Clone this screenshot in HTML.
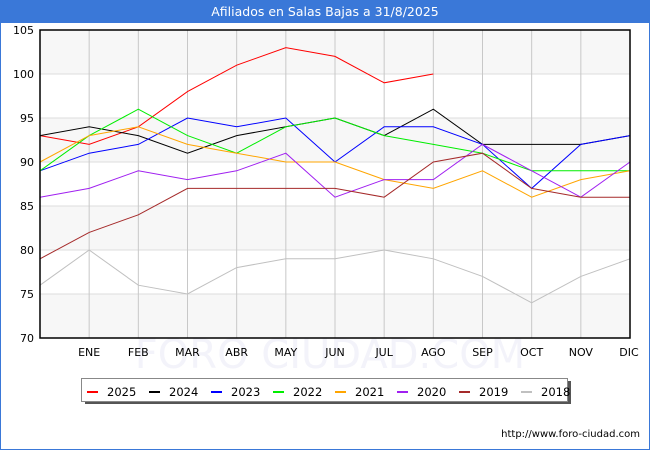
<!DOCTYPE html>
<html><head><meta charset="utf-8"><style>
body{margin:0;background:#fff;}
#wrap{position:relative;width:650px;height:450px;overflow:hidden;font-family:"DejaVu Sans","Liberation Sans",sans-serif;}
</style></head><body>
<div id="wrap">
<svg id="chart" width="650" height="450" xmlns="http://www.w3.org/2000/svg">
<rect x="0.5" y="0.5" width="649" height="449" fill="#fff" stroke="#3a78d8"/>
<rect x="0" y="0" width="650" height="23" fill="#3a78d8"/>
<text x="325" y="16" fill="#fff" font-size="12.5" text-anchor="middle" font-family="DejaVu Sans, Liberation Sans, sans-serif">Afiliados en Salas Bajas a 31/8/2025</text>
<g id="bands"></g><g id="grid"></g>
<text x="330" y="368" font-size="40" fill="#f3f3fa" text-anchor="middle">FORO CIUDAD.COM</text>
<g id="series"></g><g id="axes"></g>
<g id="legend"></g>
<text x="640" y="437" font-size="10" text-anchor="end" fill="#000">http://www.foro-ciudad.com</text>
</svg>
</div>
<script>
const months=["","ENE","FEB","MAR","ABR","MAY","JUN","JUL","AGO","SEP","OCT","NOV","DIC"];
const yTicks=[70,75,80,85,90,95,100,105];
const years=["2025","2024","2023","2022","2021","2020","2019","2018"];
const colors=["#ff0000","#000000","#0000ff","#00ee00","#ffa500","#a020f0","#a52a2a","#c0c0c0"];
const s2025=[93,92,94,98,101,103,102,99,100];
const s2024=[93,94,93,91,93,94,95,93,96,92,92,92,93];
const s2023=[89,91,92,95,94,95,90,94,94,92,87,92,93];
const s2022=[89,93,96,93,91,94,95,93,92,91,89,89,89];
const s2021=[90,93,94,92,91,90,90,88,87,89,86,88,89];
const s2020=[86,87,89,88,89,91,86,88,88,92,89,86,90];
const s2019=[79,82,84,87,87,87,87,86,90,91,87,86,86];
const s2018=[76,80,76,75,78,79,79,80,79,77,74,77,79];
const seriesData=[s2025,s2024,s2023,s2022,s2021,s2020,s2019,s2018];

const NS="http://www.w3.org/2000/svg";
const L=40,R=630,T=30,B=338,ymin=70,ymax=105;
const xs=i=>L+i*(R-L)/(months.length-1);
const ys=v=>B-(v-ymin)*(B-T)/(ymax-ymin);
function mk(tag,attrs,parent){const e=document.createElementNS(NS,tag);for(const k in attrs)e.setAttribute(k,attrs[k]);parent.appendChild(e);return e;}
const bands=document.getElementById('bands'),grid=document.getElementById('grid'),axes=document.getElementById('axes'),ser=document.getElementById('series'),leg=document.getElementById('legend');
for(let k=0;k<yTicks.length-1;k++){
  if((yTicks.length-2-k)%2===0){
    const r=mk('rect',{x:L,y:ys(yTicks[k+1]),width:R-L,height:ys(yTicks[k])-ys(yTicks[k+1]),fill:'#f7f7f7'},bands);
    
    
  }
}
yTicks.forEach(v=>{
  const l=mk('line',{x1:L,x2:R,y1:ys(v),y2:ys(v),stroke:'#dddddd','stroke-width':1},grid);
  
  
  const t=mk('text',{x:L-6,y:ys(v)+4,'font-size':11,'text-anchor':'end',fill:'#000'},axes);
  t.textContent=v;
  
  
});
months.forEach((m,i)=>{
  if(i>0&&i<months.length-1){
    const l=mk('line',{x1:xs(i),x2:xs(i),y1:T,y2:B,stroke:'#c8c8c8','stroke-width':1},grid);
    
    
  }
  if(m){
    const t=mk('text',{x:xs(i)-(i===months.length-1?1:0),y:356,'font-size':11,'text-anchor':'middle',fill:'#000'},axes);
    t.textContent=m;
    
    
  }
});
const fr=mk('rect',{x:L,y:T,width:R-L,height:B-T,fill:'none',stroke:'#000','stroke-width':1.5},axes);


for(let s=0;s<seriesData.length;s++){
  const pts=seriesData[s].map((v,i)=>xs(i)+','+ys(v)).join(' ');
  const p=mk('polyline',{points:pts,fill:'none',stroke:colors[s],'stroke-width':1},ser);
  
  
}
const sh=mk('rect',{x:85,y:381,width:486,height:23,fill:'#555'},leg);


const lb=mk('rect',{x:81.5,y:378.5,width:486,height:23,fill:'#fff',stroke:'#888'},leg);


years.forEach((y,k)=>{
  const x0=87+k*62;
  const g=mk('g',{},leg);
  
  
  mk('line',{x1:x0,x2:x0+11,y1:392,y2:392,stroke:colors[k],'stroke-width':2},g);
  const t=mk('text',{x:x0+20,y:396,'font-size':11.5,fill:'#000'},g);
  t.textContent=y;
});
</script>
</body></html>
